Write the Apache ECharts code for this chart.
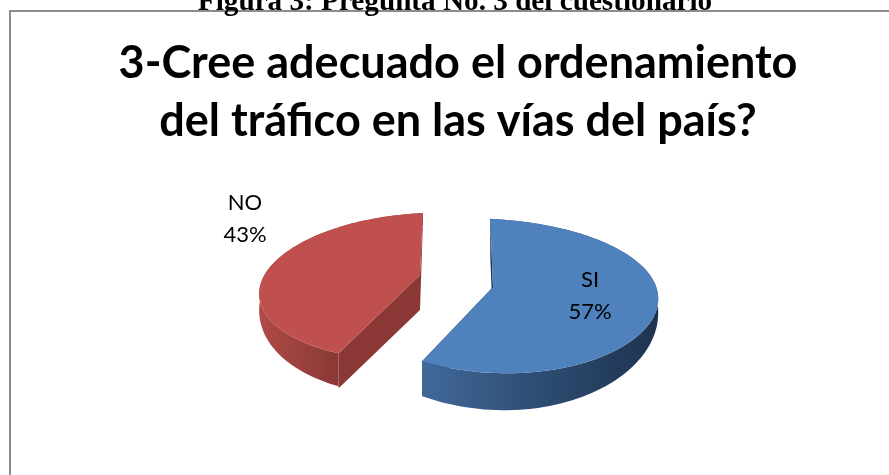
<!DOCTYPE html>
<html>
<head>
<meta charset="utf-8">
<style>
    html, body { margin: 0; padding: 0; background: #fff; }
    #chart { width: 889px; height: 475px; }
</style>
<script src="https://cdn.jsdelivr.net/npm/echarts@6/dist/echarts.min.js"></script>
</head>
<body>
<div id="chart"></div>
<script>
var categories = ['SI', 'NO'];
var values = [57, 43];
var caption = 'Figura 3: Pregunta No. 3 del cuestionario';
var chartTitle = '3-Cree adecuado el ordenamiento\ndel tráfico en las vías del país?';

// each slice is pulled out of the pie, so each one has its own projected ellipse
var sliceLayout = [{
    cx: 493, cy: 287, rx: 165, up: 68, down: 86, xPersp: 0.05, shear: 0, yShear: 8,
    depth: 37, labelX: 590, labelY: 296,
    top: '#4f81bd', cut: '#1f3552',
    wall: [[0, '#41699a'], [0.5, '#2e4c72'], [1, '#1e3350']]
}, {
    cx: 420, cy: 275, rx: 158, up: 62, down: 85, xPersp: 0.15, shear: -6, yShear: -5,
    depth: 35, labelX: 245, labelY: 219,
    top: '#c0504d', cut: '#8a3735',
    wall: [[0, '#b04a47'], [0.45, '#8b3a37'], [1, '#8a3735']]
}];
var startAngle = -1;
var sideDepth = 0.35; // the wall gets thinner towards the sides of the pie

// circle angle (clockwise from the top) to a pixel on the tilted pie
function project(s, deg) {
    var a = deg * Math.PI / 180;
    var u = Math.sin(a);
    var v = -Math.cos(a);
    var k = 2 * s.up * s.down / (s.up + s.down);
    var p = (s.down - s.up) / (s.down + s.up);
    return [
        s.cx + (s.rx * u + s.shear * v) / (1 - s.xPersp * v),
        s.cy + k * v / (1 - p * v) + s.yShear * u
    ];
}

function wallBottom(s, deg) {
    var pt = project(s, deg);
    var v = Math.max(0, -Math.cos(deg * Math.PI / 180));
    return [pt[0], pt[1] + s.depth * (sideDepth + (1 - sideDepth) * v)];
}

function renderSlice(params, api) {
    var i = params.dataIndex;
    var s = sliceLayout[i];
    var total = values.reduce(function (a, b) { return a + b; }, 0);
    var before = 0;
    for (var n = 0; n < i; n++) before += values[n];
    var from = startAngle + before / total * 360;
    var to = from + api.value(0) / total * 360;

    var angles = [];
    for (var d = from; d < to; d += 2) angles.push(d);
    angles.push(to);

    var arc = angles.map(function (a) { return project(s, a); });
    var arcBottom = angles.map(function (a) { return wallBottom(s, a); });

    var centre = [s.cx, s.cy];
    var centreBottom = [s.cx, s.cy + s.depth];
    var first = arc[0];
    var last = arc[arc.length - 1];

    return {
        type: 'group',
        children: [{
            type: 'polygon',
            shape: { points: [first, centre, centreBottom, [first[0], first[1] + s.depth]] },
            style: { fill: s.cut }
        }, {
            type: 'polygon',
            shape: { points: [centre, last, arcBottom[arcBottom.length - 1], centreBottom] },
            style: { fill: s.cut }
        }, {
            type: 'polygon',
            shape: { points: arc.concat(arcBottom.slice().reverse()) },
            style: {
                fill: new echarts.graphic.LinearGradient(0, 0, 1, 0, s.wall.map(function (c) {
                    return { offset: c[0], color: c[1] };
                }))
            }
        }, {
            type: 'polygon',
            shape: { points: [centre].concat(arc) },
            style: { fill: s.top }
        }, {
            type: 'text',
            style: {
                x: s.labelX,
                y: s.labelY,
                text: categories[i] + '\n' + Math.round(api.value(0) / total * 100) + '%',
                fill: '#000',
                font: '22px Lato',
                lineHeight: 32,
                align: 'center',
                verticalAlign: 'middle'
            }
        }]
    };
}

var myChart = echarts.init(document.getElementById('chart'), null, { renderer: 'canvas' });
var option = {
    animation: false,
    title: [{
        text: caption,
        left: 450,
        textAlign: 'center',
        top: -17,
        textStyle: { fontFamily: 'Liberation Serif', fontWeight: 'bold', fontSize: 29.2, color: '#000' }
    }, {
        text: chartTitle,
        left: 453,
        textAlign: 'center',
        top: 29,
        textStyle: { fontFamily: 'Lato', fontWeight: 'bold', fontSize: 45, lineHeight: 58, color: '#000' }
    }],
    graphic: [{
        type: 'rect',
        z: -1,
        shape: { x: 10, y: 11, width: 1000, height: 1000 },
        style: { fill: '#fff', stroke: '#8c8c8c', lineWidth: 2 }
    }],
    series: [{
        type: 'custom',
        coordinateSystem: 'none',
        renderItem: renderSlice,
        data: values.map(function (v) { return [v]; })
    }]
};
myChart.setOption(option);
</script>
</body>
</html>
